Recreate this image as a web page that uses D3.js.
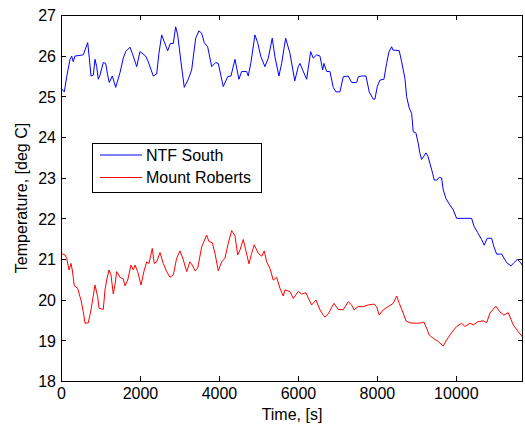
<!DOCTYPE html>
<html>
<head>
<meta charset="utf-8">
<script src="https://cdn.jsdelivr.net/npm/d3@7"></script>
<style>
  html, body { margin: 0; padding: 0; background: #fff; }
  svg { display: block; }
  text { font-family: "Liberation Sans", Arial, Helvetica, sans-serif; fill: #000; }
</style>
</head>
<body>
<div id="chart"></div>
<script>
// ---- Data ----
const ntfTime = [0,84,144,228,271,311,354,565,608,676,717,760,818,861,904,944,987,1071,1132,1172,1223,1299,1385,1494,1577,1638,1747,1805,1917,2000,2145,2210,2337,2423,2481,2550,2616,2702,2768,2844,2904,2955,3038,3122,3223,3309,3411,3494,3563,3628,3714,3816,3917,3983,4109,4221,4304,4406,4506,4575,4702,4742,4810,4911,4980,5063,5165,5249,5350,5418,5519,5588,5689,5798,5920,6008,6052,6119,6221,6322,6388,6474,6558,6626,6659,6728,6811,6895,6963,7064,7147,7274,7360,7487,7528,7614,7723,7806,7908,7950,8009,8077,8178,8246,8305,8373,8406,8566,8626,8710,8753,8819,8880,8920,8988,9046,9089,9132,9190,9242,9292,9343,9411,9451,9520,9578,9639,9680,9748,9832,9933,10019,10229,10399,10457,10551,10652,10718,10794,10906,10964,11032,11159,11286,11395,11471,11554,11622,11698];
const ntfTemp = [25.20,25.11,25.48,25.91,25.99,25.85,25.99,26.02,26.14,26.32,25.94,25.50,25.52,25.91,25.73,25.42,25.52,25.83,25.81,25.57,25.34,25.50,25.22,25.58,25.94,26.10,26.21,26.06,25.73,26.10,25.99,25.85,25.50,25.55,26.06,26.51,26.34,26.12,26.30,26.30,26.71,26.51,25.85,25.22,25.42,25.65,26.43,26.61,26.55,26.32,26.22,25.73,25.83,25.81,25.24,25.48,25.50,25.91,25.42,25.61,25.61,25.50,25.83,26.51,26.32,25.97,25.73,25.94,26.43,25.97,25.50,25.81,26.43,26.06,25.38,25.73,25.81,25.65,25.42,26.10,25.94,26.02,25.99,25.65,25.81,25.61,25.61,25.22,25.11,25.11,25.48,25.50,25.34,25.34,25.48,25.50,25.50,25.11,24.93,24.93,25.24,25.40,25.42,25.81,26.09,26.22,26.14,26.12,25.85,25.44,24.99,24.71,24.58,24.13,24.10,23.85,23.60,23.45,23.53,23.61,23.53,23.35,23.11,22.94,22.94,23.01,22.99,22.70,22.49,22.35,22.21,22.00,22.00,22.00,21.81,21.65,21.48,21.34,21.51,21.51,21.30,21.12,21.12,20.91,20.83,20.91,20.99,20.93,20.83];

const mrTime = [0,101,144,203,253,286,337,423,481,506,565,608,691,760,861,929,962,1071,1114,1157,1215,1266,1324,1367,1410,1494,1577,1620,1689,1772,1831,1874,1942,2026,2109,2170,2228,2312,2362,2423,2507,2590,2676,2760,2844,2929,3013,3097,3183,3266,3325,3393,3461,3563,3689,3747,3831,3899,3983,4069,4152,4236,4322,4406,4474,4532,4616,4677,4760,4828,4894,4995,5082,5148,5208,5292,5375,5461,5545,5629,5672,5798,5882,6008,6095,6204,6262,6348,6457,6558,6641,6684,6768,6912,7021,7147,7274,7360,7419,7528,7654,7781,7925,7993,8059,8161,8287,8414,8500,8566,8667,8735,8837,9006,9132,9190,9258,9325,9426,9553,9680,9766,9892,10019,10146,10229,10356,10440,10566,10693,10779,10862,11014,11115,11216,11325,11453,11580,11666,11698];
const mrTemp = [21.14,21.10,21.02,20.73,20.89,20.73,20.34,20.28,20.07,19.99,19.70,19.42,19.43,19.75,20.36,20.07,19.79,19.76,20.24,20.48,20.73,20.61,20.14,20.36,20.69,20.55,20.51,20.34,20.48,20.85,20.73,20.85,20.69,20.36,20.73,20.93,20.89,21.26,20.89,20.93,21.16,20.89,20.69,20.55,20.61,21.02,21.20,20.98,20.69,20.93,20.85,20.71,20.77,21.30,21.59,21.43,21.40,21.14,20.71,20.93,21.02,21.39,21.70,21.57,21.10,21.22,21.48,21.22,20.88,21.14,21.35,21.14,21.07,21.20,20.93,20.77,20.48,20.55,20.28,20.09,20.24,20.20,20.03,20.20,20.14,20.17,20.04,19.87,19.99,19.75,19.62,19.57,19.65,19.91,19.76,19.75,19.95,19.87,19.75,19.83,19.83,19.87,19.89,19.83,19.62,19.75,19.83,19.91,20.09,19.91,19.67,19.48,19.43,19.42,19.43,19.45,19.30,19.13,19.05,18.97,18.86,19.01,19.19,19.34,19.42,19.34,19.42,19.38,19.46,19.48,19.43,19.67,19.84,19.70,19.62,19.68,19.38,19.21,19.11,19.07];

const seriesNames = ["NTF South", "Mount Roberts"];
const seriesColors = ["#0000ff", "#ff0000"];
const xTicks = [0, 2000, 4000, 6000, 8000, 10000];
const yTicks = [18, 19, 20, 21, 22, 23, 24, 25, 26, 27];
const xDomain = [0, 11700];
const yDomain = [18, 27];
const xLabel = "Time, [s]";
const yLabel = "Temperature, [deg C]";

// ---- Layout ----
const W = 525, H = 426;
const m = { left: 61, top: 15, right: 2, bottom: 45 };
const pw = W - m.left - m.right, ph = H - m.top - m.bottom;

const svg = d3.select("#chart").append("svg").attr("width", W).attr("height", H);
const g = svg.append("g").attr("transform", `translate(${m.left},${m.top})`);

const x = d3.scaleLinear().domain(xDomain).range([0, pw]);
const y = d3.scaleLinear().domain(yDomain).range([ph, 0]);

g.append("rect").attr("width", pw).attr("height", ph).attr("fill", "#fff");

const series = [
  { name: seriesNames[0], color: seriesColors[0], t: ntfTime, v: ntfTemp },
  { name: seriesNames[1], color: seriesColors[1], t: mrTime, v: mrTemp }
];
const line = d3.line().x(d => x(d[0])).y(d => y(d[1]));
series.forEach(s => {
  g.append("path")
    .datum(d3.zip(s.t, s.v))
    .attr("fill", "none")
    .attr("stroke", s.color)
    .attr("stroke-width", 1)
    .attr("stroke-linejoin", "miter")
    .attr("d", line);
});

// axes (ticks inward, mirrored)
const fontSize = 16;
function styleAxis(sel) {
  sel.select(".domain").remove();
  sel.selectAll(".tick line").attr("stroke", "#000").attr("shape-rendering", "crispEdges");
  sel.selectAll(".tick text").style("font-size", fontSize + "px")
     .style("font-family", '"Liberation Sans", Arial, sans-serif').attr("fill", "#000");
}
const xAxis = g.append("g").attr("transform", `translate(0,${ph})`)
  .call(d3.axisBottom(x).tickValues(xTicks).tickFormat(d3.format("d")).tickSizeInner(-5).tickSizeOuter(0).tickPadding(0));
styleAxis(xAxis);
xAxis.selectAll(".tick text").attr("y", 18).attr("dy", 0);

const xAxisTop = g.append("g")
  .call(d3.axisTop(x).tickValues(xTicks).tickFormat("").tickSizeInner(-5).tickSizeOuter(0));
styleAxis(xAxisTop);

const yAxis = g.append("g")
  .call(d3.axisLeft(y).tickValues(yTicks).tickFormat(d3.format("d")).tickSizeInner(-5).tickSizeOuter(0).tickPadding(0));
styleAxis(yAxis);
yAxis.selectAll(".tick text").attr("x", -5).attr("dy", "0.36em");

const yAxisRight = g.append("g").attr("transform", `translate(${pw},0)`)
  .call(d3.axisRight(y).tickValues(yTicks).tickFormat("").tickSizeInner(-5).tickSizeOuter(0));
styleAxis(yAxisRight);

g.append("rect").attr("x", 0.5).attr("y", 0.5).attr("width", pw - 1).attr("height", ph)
  .attr("fill", "none").attr("stroke", "#000").attr("stroke-width", 1).attr("shape-rendering", "crispEdges");

// axis labels
svg.append("text").attr("x", m.left + pw / 2).attr("y", 420)
  .attr("text-anchor", "middle").style("font-size", fontSize + "px").text(xLabel);
svg.append("text").attr("transform", `translate(27,${m.top + ph / 2}) rotate(-90)`)
  .attr("text-anchor", "middle").style("font-size", fontSize + "px").text(yLabel);

// legend
const lg = svg.append("g");
lg.append("rect").attr("x", 92.5).attr("y", 143.5).attr("width", 169).attr("height", 49)
  .attr("fill", "#fff").attr("stroke", "#000").attr("stroke-width", 1).attr("shape-rendering", "crispEdges");
const rowY = [155, 177.5];
series.forEach((s, i) => {
  lg.append("line").attr("x1", 100).attr("x2", 142).attr("y1", rowY[i]).attr("y2", rowY[i])
    .attr("stroke", s.color).attr("stroke-width", 1);
  lg.append("text").attr("x", 146).attr("y", rowY[i]).attr("dy", "0.36em")
    .style("font-size", fontSize + "px").text(s.name);
});
</script>
</body>
</html>
